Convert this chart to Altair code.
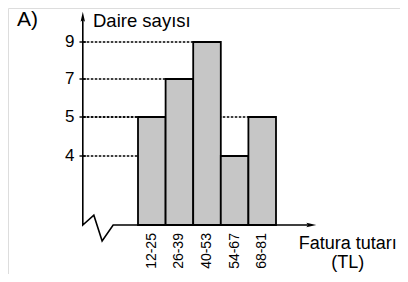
import altair as alt
import pandas as pd

# ---- data ----
categories = ["12-25", "26-39", "40-53", "54-67", "68-81"]
counts = [5, 7, 9, 4, 5]
y_ticks = [9, 7, 5, 4]
y_title = "Daire sayısı"
x_title_lines = ["Fatura tutarı", "(TL)"]
panel_label = "A)"

FONT = "Liberation Sans"
AXIS_X = -2.0          # where the vertical axis sits (in bar units)
BREAK_X = [-2.0, -1.6, -1.3, -0.9]   # zig-zag of the broken axis
BREAK_Y = [0.0, 0.57, -0.91, 0.0]
Y_TOP = 10.35          # arrow head of vertical axis
X_END = 6.27           # arrow head of horizontal axis

xs = alt.Scale(domain=[0, 5], range=[130, 268], nice=False, zero=False)
ys = alt.Scale(domain=[-3, 0, 4, 5, 7, 9, 11],
               range=[269.5, 217, 148, 109, 71, 34, -3], nice=False, zero=False)

def X(f):
    return alt.X(f, type="quantitative", scale=xs, axis=None)

def Y(f):
    return alt.Y(f, type="quantitative", scale=ys, axis=None)

bars_df = pd.DataFrame({
    "cat": categories,
    "x0": list(range(len(categories))),
    "x1": [i + 1 for i in range(len(categories))],
    "mid": [i + 0.5 for i in range(len(categories))],
    "base": [0] * len(categories),
    "count": counts,
    "axis": [AXIS_X] * len(categories),
    "lab_y": [-0.46] * len(categories),
})

# dashed guides from the axis to the left edge of each bar (hidden behind taller bars)
guides = alt.Chart(bars_df).mark_rule(
    color="#000", strokeWidth=1.3, strokeDash=[2.5, 1.5]
).encode(x=X("axis"), x2="x0", y=Y("count"))

bars = alt.Chart(bars_df).mark_rect(
    fill="#c6c6c6", stroke="#000", strokeWidth=1.8
).encode(x=X("x0"), x2="x1", y=Y("base"), y2="count")

cat_labels = alt.Chart(bars_df).mark_text(
    angle=270, align="right", baseline="middle", font=FONT, fontSize=14, color="#000"
).encode(x=X("mid"), y=Y("lab_y"), text="cat:N")

# axis polyline: vertical axis, break zig-zag, horizontal axis
line_x = [AXIS_X] + BREAK_X + [X_END]
line_y = [Y_TOP] + BREAK_Y + [0.0]
axis_df = pd.DataFrame({"x": line_x, "y": line_y, "o": list(range(len(line_x)))})
axis_line = alt.Chart(axis_df).mark_line(
    color="#000", strokeWidth=1.6, strokeJoin="miter"
).encode(x=X("x"), y=Y("y"), order="o:Q")

arrow_df = pd.DataFrame({
    "x": [AXIS_X, X_END],
    "y": [Y_TOP, 0.0],
    "shape": ["M0,-1L0.42,0.9L0,0.55L-0.42,0.9Z", "M1,0L-0.9,-0.42L-0.55,0L-0.9,0.42Z"],
})
arrows = alt.Chart(arrow_df).mark_point(
    filled=True, color="#000", size=110, opacity=1
).encode(x=X("x"), y=Y("y"), shape=alt.Shape("shape:N", scale=None))

ticks_df = pd.DataFrame({
    "v": y_ticks,
    "a": [AXIS_X - 0.12] * len(y_ticks),
    "b": [AXIS_X + 0.12] * len(y_ticks),
    "lx": [AXIS_X - 0.3] * len(y_ticks),
})
tick_marks = alt.Chart(ticks_df).mark_rule(color="#000", strokeWidth=1.4).encode(
    x=X("a"), x2="b", y=Y("v"))
tick_labels = alt.Chart(ticks_df).mark_text(
    align="right", baseline="middle", font=FONT, fontSize=17, color="#000"
).encode(x=X("lx"), y=Y("v"), text="v:Q")

text_df = pd.DataFrame({
    "t": [panel_label, y_title],
    "x": [-4.38, -1.63],
    "y": [10.17, 10.15],
    "s": [21, 18.5],
})
left_texts = alt.Chart(text_df).mark_text(
    align="left", baseline="middle", font=FONT, color="#000"
).encode(x=X("x"), y=Y("y"), text="t:N", size=alt.Size("s:Q", scale=None))

xt_df = pd.DataFrame({"t": x_title_lines, "x": [7.6, 7.6], "y": [-1.09, -2.17]})
x_title = alt.Chart(xt_df).mark_text(
    align="center", baseline="middle", font=FONT, fontSize=18, color="#000"
).encode(x=X("x"), y=Y("y"), text="t:N")

chart = alt.layer(
    guides, axis_line, bars, arrows, tick_marks, tick_labels,
    cat_labels, left_texts, x_title
).properties(
    width=392, height=266,
    autosize=alt.AutoSizeParams(type="none"),
    padding=0,
).configure_view(stroke=None).configure(background="white")

chart.save("out.html", embed_options={"renderer": "svg", "actions": False})
